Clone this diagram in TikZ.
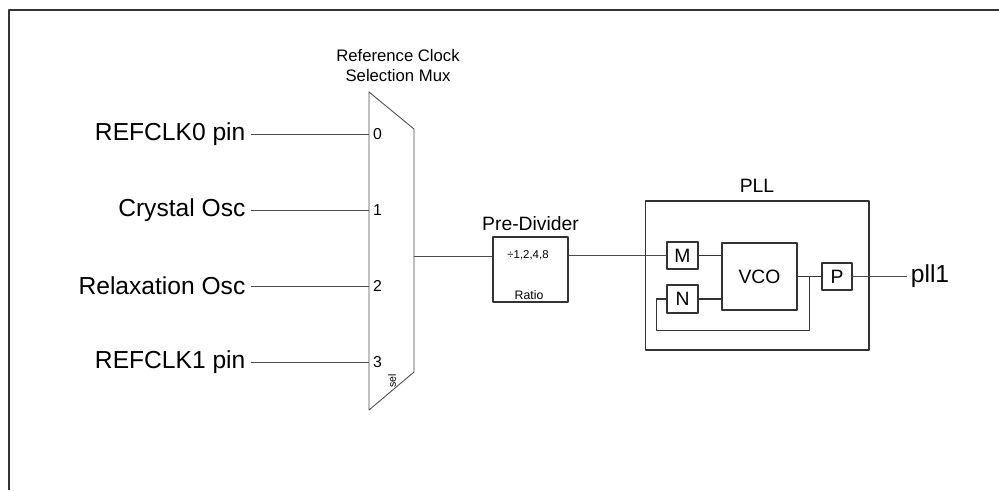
\documentclass[tikz,border=0pt]{standalone}
\usepackage{fontspec}
\setmainfont{Liberation Sans}
\usetikzlibrary{arrows.meta,calc}
\usetikzlibrary{positioning}
\tikzset{blk/.style={draw=black!80,line width=0.6pt,inner sep=0pt},
  wire/.style={draw=black!70,line width=0.5pt},
  srclbl/.style={font=\fontsize{14}{16}\selectfont,inner sep=3pt},
  portlbl/.style={font=\fontsize{9}{10}\selectfont,inner sep=1pt,anchor=west}}

\begin{document}
\begin{tikzpicture}[x=0.02cm,y=-0.02cm,line join=round,font=\fontsize{11}{13}\selectfont]
\useasboundingbox (0,0) rectangle (999,490);
% --- frame (cut at right and bottom)
\draw[black!80,line width=1.1pt] (9,490) -- (9,10) -- (999,10);
% --- reference clock selection mux
\draw[wire] (369,92) -- (414,129) -- (414,372) -- (369,410) -- cycle;
\node[font=\fontsize{9.5}{11.5}\selectfont,align=center,anchor=south] (muxlbl) at (398,88) {Reference Clock\\Selection Mux};
\node[font=\fontsize{6}{7}\selectfont,rotate=90,inner sep=0pt] (sel) at (392,381) {sel};
\coordinate (mo) at (414,256);
\foreach \i/\y/\txt in {0/134/REFCLK0 pin,1/210/Crystal Osc,2/286/Relaxation Osc,3/362/REFCLK1 pin}{
  \coordinate (p\i) at (369,\y);
  \node[srclbl,anchor=east] (src\i) at (251,\y) {\txt};
  \node[portlbl] (n\i) at (371,\y) {\i};
  \draw[wire] (src\i.east) -- (p\i);
}
% --- pre-divider
\node[blk,minimum width=1.5cm,minimum height=1.3cm] (prediv) at (530.5,269.5) {};
\node[above=0pt of prediv] (predivlbl) {Pre-Divider};
\node[font=\fontsize{6.5}{8}\selectfont,inner sep=0pt] (ratioval) at (528,255) {÷1,2,4,8};
\node[font=\fontsize{7}{8}\selectfont,inner sep=0pt] (ratio) at (529,295) {Ratio};
\draw[wire] (mo) -- (mo -| prediv.west);
% --- PLL
\node[blk,minimum width=4.48cm,minimum height=2.98cm] (pll) at (757,275.5) {};
\node[above=1pt of pll] (plllbl) {PLL};
\node[blk,minimum width=0.62cm,minimum height=0.54cm] (M) at (682.5,255.5) {M};
\node[blk,minimum width=0.62cm,minimum height=0.56cm] (N) at (682.5,299) {N};
\node[blk,minimum width=1.5cm,minimum height=1.34cm] (vco) at (759.5,276.5) {VCO};
\node[blk,minimum width=0.6cm,minimum height=0.54cm] (P) at (837,276.5) {P};
\coordinate (tap) at ($(vco.east)!0.5!(P.west)$);
\coordinate (out) at (907,276.5);
\node[srclbl,anchor=west,inner sep=2pt] (pllout) at (out) {pll1};
\draw[wire] (prediv.east |- M) -- (M.west);
\draw[blk] (M.east) -- (M.east -| vco.west);
\draw[blk] (N.east) -- (N.east -| vco.west);
\draw[blk] (vco.east) -- (P.west);
\draw[blk] (N.west) -- ++(-10,0) |- ($(tap)+(0,54)$) -- (tap);
\draw[wire] (P.east) -- (out);
\end{tikzpicture}
\end{document}
